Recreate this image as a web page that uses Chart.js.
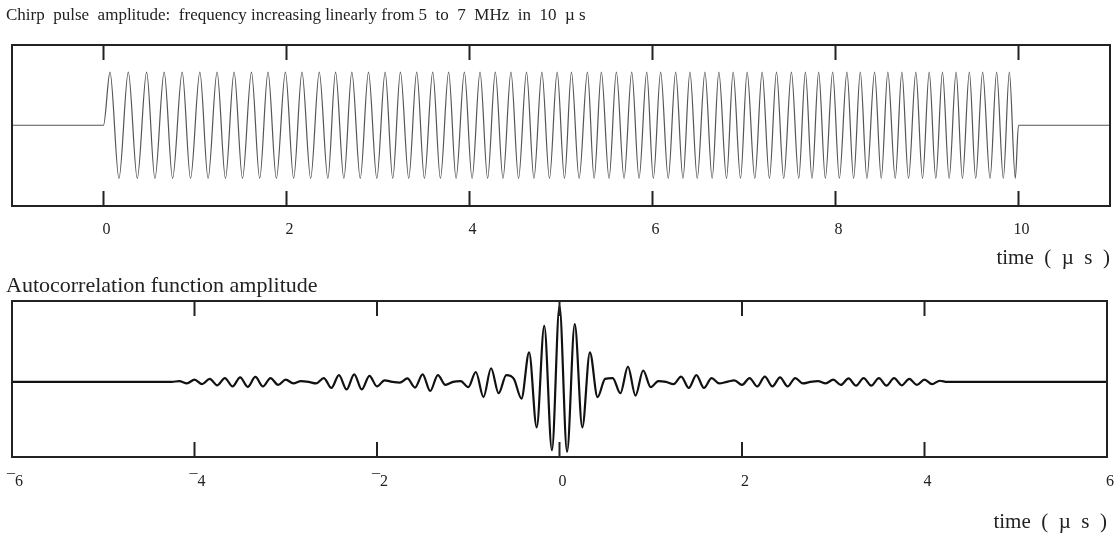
<!DOCTYPE html>
<html>
<head>
<meta charset="utf-8">
<script src="https://cdn.jsdelivr.net/npm/chart.js@4.4.1/dist/chart.umd.min.js"></script>
<style>
  html, body { margin: 0; padding: 0; background: #fff; }
  #wrap { position: relative; width: 1120px; height: 536px; }
  canvas { position: absolute; left: 0; }
  #chirp { top: 0; }
  #acf { top: 272px; }
</style>
</head>
<body>
<div id="wrap">
  <canvas id="chirp" width="1120" height="272"></canvas>
  <canvas id="acf" width="1120" height="264"></canvas>
</div>
<script>
// chirp pulse: times (µs) of the crests and troughs, 5 -> 7 MHz over 10 µs
const chirpPeakTimes = [
  0.071, 0.271, 0.471, 0.663, 0.860, 1.053, 1.241, 1.427, 1.617, 1.798,
  1.988, 2.169, 2.358, 2.536, 2.714, 2.896, 3.078, 3.245, 3.423, 3.598,
  3.772, 3.944, 4.115, 4.282, 4.453, 4.623, 4.791, 4.958, 5.114, 5.289,
  5.441, 5.605, 5.773, 5.937, 6.089, 6.253, 6.409, 6.573, 6.725, 6.881,
  7.034, 7.198, 7.355, 7.518, 7.671, 7.816, 7.969, 8.125, 8.271, 8.427,
  8.572, 8.725, 8.878, 9.024, 9.169, 9.318, 9.463, 9.608, 9.761, 9.900
];
const chirpTroughTimes = [
  0.169, 0.369, 0.562, 0.755, 0.951, 1.143, 1.333, 1.519, 1.707, 1.889,
  2.078, 2.264, 2.452, 2.627, 2.806, 2.987, 3.161, 3.336, 3.507, 3.682,
  3.853, 4.028, 4.198, 4.366, 4.536, 4.704, 4.874, 5.038, 5.198, 5.362,
  5.525, 5.689, 5.853, 6.009, 6.172, 6.333, 6.489, 6.652, 6.809, 6.962,
  7.118, 7.278, 7.434, 7.598, 7.743, 7.889, 8.042, 8.198, 8.343, 8.500,
  8.653, 8.798, 8.951, 9.096, 9.242, 9.387, 9.532, 9.689, 9.834, 9.965
];
const chirpAmplitude = 1;
const chirpOn = 0, chirpOff = 10;
const chirpRange = [-1, 11];
const chirpTicks = [0, 2, 4, 6, 8, 10];

// autocorrelation: extrema of the 6 MHz carrier under the sinc-like envelope
const acfTimes = [
  -6, -4.25, -4.167, -4.083, -4.0, -3.917, -3.833, -3.75, -3.667, -3.583, -3.5,
  -3.417, -3.333, -3.25, -3.167, -3.083, -3.0, -2.917, -2.833, -2.75, -2.667,
  -2.583, -2.5, -2.417, -2.333, -2.25, -2.167, -2.083, -2.0, -1.917, -1.833,
  -1.75, -1.667, -1.583, -1.5, -1.417, -1.333, -1.25, -1.167, -1.083, -1.0,
  -0.917, -0.833, -0.75, -0.667, -0.583, -0.5, -0.417, -0.333, -0.25, -0.167,
  -0.083, 0,
  0.083, 0.167, 0.25, 0.333, 0.417, 0.5, 0.583, 0.667, 0.75, 0.833,
  0.917, 1.0, 1.083, 1.167, 1.25, 1.333, 1.417, 1.5, 1.583, 1.667,
  1.75, 1.833, 1.917, 2.0, 2.083, 2.167, 2.25, 2.333, 2.417, 2.5,
  2.583, 2.667, 2.75, 2.833, 2.917, 3.0, 3.083, 3.167, 3.25, 3.333,
  3.417, 3.5, 3.583, 3.667, 3.75, 3.833, 3.917, 4.0, 4.083, 4.167, 4.25, 6
];
const acfValues = [
  0, 0, 0.01, -0.02, 0.03, -0.03, 0.04, -0.045, 0.05, -0.06, 0.06,
  -0.065, 0.065, -0.06, 0.05, -0.04, 0.03, -0.02, 0.01, 0, -0.02,
  0.05, -0.08, 0.09, -0.1, 0.1, -0.1, 0.08, -0.06, 0.02, 0,
  -0.01, 0.045, -0.076, 0.1, -0.12, 0.09, -0.04, 0, 0.01, -0.07,
  0.13, -0.2, 0.18, -0.15, 0.09, 0.04, -0.22, 0.39, -0.6, 0.74,
  -0.9, 1.0,
  -0.92, 0.76, -0.6, 0.39, -0.2, 0.04, 0.05, -0.15, 0.2, -0.18,
  0.15, -0.07, 0.01, 0, -0.03, 0.07, -0.08, 0.09, -0.08, 0.05,
  -0.02, 0, 0.02, -0.04, 0.05, -0.06, 0.07, -0.06, 0.06, -0.06,
  0.05, -0.02, 0, 0.01, -0.02, 0.03, -0.04, 0.045, -0.05, 0.05,
  -0.05, 0.05, -0.05, 0.05, -0.045, 0.04, -0.04, 0.03, -0.03, 0.015, 0, 0
];
const acfRange = [-6, 6];
const acfTicks = [-6, -4, -2, 0, 2, 4, 6];

const serif = "'Liberation Serif', 'Times New Roman', serif";
const ink = '#222';
const unitText = 'time  (  \u00B5  s  )';

// chirp points: flat, then crest/trough pairs, then flat again
const chirpPoints = [{x: chirpRange[0], y: 0}, {x: chirpOn, y: 0}];
chirpPeakTimes.forEach((t, i) => {
  chirpPoints.push({x: t, y: chirpAmplitude});
  chirpPoints.push({x: chirpTroughTimes[i], y: -chirpAmplitude});
});
chirpPoints.push({x: chirpOff, y: 0}, {x: chirpRange[1], y: 0});

const acfPoints = acfTimes.map((t, i) => ({x: t, y: acfValues[i]}));

// box round the plot area, short inward ticks top and bottom, unit under the axis
const frame = {
  id: 'frame',
  afterDraw(chart, args, opts) {
    const {ctx, chartArea: a, scales: {x}} = chart;
    ctx.save();
    ctx.strokeStyle = ink;
    ctx.lineWidth = 2;
    ctx.strokeRect(a.left, a.top, a.right - a.left, a.bottom - a.top);
    x.ticks.forEach(t => {
      const px = x.getPixelForValue(t.value);
      ctx.beginPath();
      ctx.moveTo(px, a.top); ctx.lineTo(px, a.top + 15);
      ctx.moveTo(px, a.bottom); ctx.lineTo(px, a.bottom - 15);
      ctx.stroke();
    });
    ctx.fillStyle = ink;
    ctx.font = '21px ' + serif;
    ctx.textAlign = 'right';
    ctx.textBaseline = 'middle';
    ctx.fillText(unitText, a.right, a.bottom + opts.unitGap);
    ctx.restore();
  }
};

function minusLabel(v) {
  return v < 0 ? '\u00AF' + Math.abs(v) : String(v);
}

function makeChart(id, cfg) {
  return new Chart(document.getElementById(id), {
    type: 'line',
    data: {datasets: [{
      data: cfg.points,
      borderColor: cfg.color,
      borderWidth: cfg.width,
      pointRadius: 0,
      cubicInterpolationMode: 'monotone',
      fill: false
    }]},
    options: {
      responsive: false,
      animation: false,
      events: [],
      layout: {padding: cfg.padding},
      plugins: {
        legend: {display: false},
        tooltip: {enabled: false},
        title: {
          display: true,
          text: cfg.title,
          align: 'start',
          color: ink,
          font: {family: serif, size: cfg.titleSize, weight: 'normal'},
          padding: cfg.titlePad
        },
        frame: {unitGap: cfg.unitGap}
      },
      scales: {
        x: {
          type: 'linear',
          min: cfg.range[0],
          max: cfg.range[1],
          afterBuildTicks: s => { s.ticks = cfg.ticks.map(v => ({value: v})); },
          // plot box sits 12px in from the left, title starts at 6px
          afterFit: s => { s.paddingLeft = 12; s.paddingRight = 0; },
          grid: {display: false, drawTicks: false},
          border: {display: false},
          ticks: {
            autoSkip: false,
            maxRotation: 0,
            color: ink,
            padding: cfg.tickPad,
            labelOffset: 3,
            font: {family: serif, size: 16},
            callback: v => minusLabel(v)
          }
        },
        y: {display: false, min: cfg.yRange[0], max: cfg.yRange[1]}
      }
    },
    plugins: [frame]
  });
}

makeChart('chirp', {
  points: chirpPoints,
  color: '#555',
  width: 1.2,
  range: chirpRange,
  ticks: chirpTicks,
  yRange: [-1.52, 1.51],
  title: 'Chirp  pulse  amplitude:  frequency increasing linearly from 5  to  7  MHz  in  10  \u00B5 s',
  titleSize: 17,
  titlePad: {top: 5, bottom: 19.6},
  tickPad: 14,
  unitGap: 52,
  padding: {left: 6, right: 10, top: 0, bottom: 18.8}
});

makeChart('acf', {
  points: acfPoints,
  color: '#111',
  width: 2.2,
  range: acfRange,
  ticks: acfTicks,
  yRange: [-0.99, 1.066],
  title: 'Autocorrelation function amplitude',
  titleSize: 22,
  titlePad: {top: 1, bottom: 1.6},
  tickPad: 15,
  unitGap: 65,
  padding: {left: 6, right: 13, top: 0, bottom: 29.8}
});
</script>
</body>
</html>
